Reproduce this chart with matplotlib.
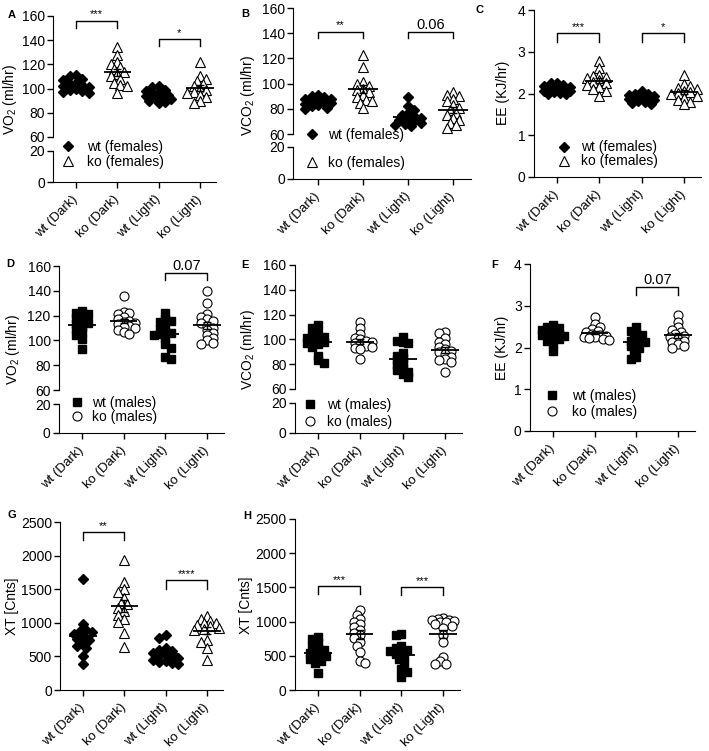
import numpy as np
import matplotlib
matplotlib.use('Agg')
import matplotlib.pyplot as plt

plt.rcParams['font.family'] = ['Liberation Sans', 'DejaVu Sans']
plt.rcParams['mathtext.fontset'] = 'custom'
plt.rcParams['mathtext.rm'] = 'Liberation Sans'
plt.rcParams['mathtext.it'] = 'Liberation Sans:italic'
plt.rcParams['mathtext.bf'] = 'Liberation Sans:bold'

groups = ['wt (Dark)', 'ko (Dark)', 'wt (Light)', 'ko (Light)']

# values, one list per group (wt dark, ko dark, wt light, ko light)
vo2_f = [[111, 110, 108, 107, 105, 104, 103, 102, 101, 100, 99, 98, 96, 97],
         [134, 128, 122, 120, 118, 116, 114, 112, 110, 108, 105, 103, 102, 96],
         [102, 101, 99, 98, 97, 96, 95, 94, 93, 92, 91, 90, 89, 88],
         [122, 110, 108, 106, 104, 102, 100, 99, 97, 96, 95, 93, 90, 88]]
vco2_f = [[91, 90, 89, 88, 88, 87, 86, 85, 85, 84, 83, 82, 81, 80],
          [123, 113, 101, 100, 98, 96, 95, 93, 91, 89, 87, 86, 85, 81],
          [89, 82, 79, 77, 75, 74, 73, 72, 71, 70, 69, 68, 67, 66],
          [93, 91, 90, 88, 86, 83, 81, 79, 77, 75, 73, 71, 69, 67, 65]]
ee_f = [[2.25, 2.24, 2.2, 2.18, 2.15, 2.12, 2.1, 2.08, 2.05, 2.03, 2.0, 1.98, 2.02, 2.07],
        [2.78, 2.62, 2.45, 2.42, 2.4, 2.36, 2.32, 2.28, 2.25, 2.2, 2.15, 2.1, 2.05, 1.94],
        [2.06, 2.0, 1.98, 1.96, 1.94, 1.92, 1.9, 1.88, 1.86, 1.84, 1.82, 1.8, 1.78, 1.76],
        [2.44, 2.22, 2.18, 2.14, 2.1, 2.07, 2.04, 2.01, 1.98, 1.95, 1.9, 1.85, 1.8, 1.76]]
vo2_m = [[124, 122, 121, 120, 118, 116, 114, 113, 111, 109, 107, 104, 101, 93],
         [136, 123, 122, 121, 119, 117, 116, 115, 114, 113, 112, 111, 110, 108, 107, 105],
         [122, 117, 116, 115, 112, 109, 107, 106, 105, 104, 102, 97, 94, 87, 85],
         [140, 130, 121, 119, 117, 116, 114, 112, 110, 108, 106, 104, 102, 100, 98, 97]]
vco2_m = [[112, 109, 104, 103, 102, 101, 100, 99, 98, 97, 96, 94, 87, 83, 81],
          [114, 109, 104, 101, 100, 99, 98, 97, 96, 95, 94, 93, 92, 84],
          [102, 99, 98, 97, 89, 87, 85, 83, 81, 79, 77, 75, 74, 72, 70],
          [106, 105, 101, 98, 96, 94, 92, 91, 90, 88, 86, 84, 83, 82, 74]]
ee_m = [[2.53, 2.5, 2.46, 2.42, 2.38, 2.35, 2.32, 2.3, 2.27, 2.24, 2.2, 2.15, 2.08, 1.92],
        [2.72, 2.56, 2.5, 2.45, 2.4, 2.36, 2.33, 2.3, 2.28, 2.26, 2.24, 2.22, 2.2, 2.18],
        [2.48, 2.4, 2.35, 2.3, 2.25, 2.2, 2.15, 2.12, 2.08, 2.03, 1.98, 1.92, 1.78, 1.72],
        [2.78, 2.6, 2.48, 2.42, 2.38, 2.32, 2.28, 2.24, 2.2, 2.16, 2.12, 2.08, 2.03, 1.99]]
xt_f = [[1650, 980, 900, 880, 860, 830, 800, 760, 740, 700, 660, 620, 510, 380],
        [1930, 1600, 1500, 1460, 1370, 1300, 1280, 1220, 1170, 1120, 1060, 1010, 850, 640],
        [820, 770, 620, 600, 580, 550, 530, 510, 490, 470, 450, 430, 410, 380, 400],
        [1100, 1060, 1030, 1000, 990, 970, 950, 930, 910, 890, 740, 710, 620, 440]]
xt_m = [[780, 740, 700, 650, 620, 590, 560, 540, 520, 500, 480, 460, 430, 400, 250],
        [1170, 1100, 1040, 1000, 960, 920, 880, 840, 800, 760, 700, 640, 560, 420, 400],
        [820, 810, 640, 610, 590, 570, 550, 520, 490, 450, 400, 300, 260, 190],
        [1050, 1040, 1030, 1020, 1010, 1000, 990, 970, 940, 900, 800, 700, 480, 420, 380, 380]]

W, H = 709, 751
fig = plt.figure(figsize=(W / 100, H / 100), dpi=100)

XLIM = (-0.55, 3.4)
female = dict(wt=dict(marker='D', ms=5, mfc='black', mec='black'),
              ko=dict(marker='^', ms=7, mfc='white', mec='black', mew=0.8))
male = dict(wt=dict(marker='s', ms=5.2, mfc='black', mec='black'),
            ko=dict(marker='o', ms=6.5, mfc='white', mec='black', mew=0.8))


def add_ax(first, sp, ytop, ybot):
    x0 = first + XLIM[0] * sp
    x1 = first + XLIM[1] * sp
    ax = fig.add_axes([x0 / W, 1 - ybot / H, (x1 - x0) / W, (ybot - ytop) / H])
    ax.set_xlim(*XLIM)
    for s in ['top', 'right']:
        ax.spines[s].set_visible(False)
    ax.tick_params(direction='out', length=4, width=1, labelsize=10, pad=2)
    return ax


def spread(vals, ax, size, maxw=0.34):
    # simple swarm: push points sideways, but keep them inside the column
    y0, y1 = ax.get_ylim()
    sx = ax.bbox.width / (XLIM[1] - XLIM[0])
    sy = ax.bbox.height / (y1 - y0)
    vals = np.asarray(vals, float)
    offs = np.zeros(len(vals))
    placed = []
    step = size * 0.35
    nmax = int(maxw * sx / step)
    for n, i in enumerate(np.argsort(vals)[::-1]):
        y = vals[i] * sy
        best, bestd = 0.0, -1
        for k in range(nmax + 1):
            cands = [0.0] if k == 0 else [k * step, -k * step]
            if n % 2:
                cands = cands[::-1]
            for dx in cands:
                d = min([np.hypot(dx - px, y - py) for px, py in placed] or [99])
                if d >= size * 0.6:
                    best, bestd = dx, 99
                    break
                if d > bestd:
                    best, bestd = dx, d
            if bestd == 99:
                break
        placed.append((best, y))
        offs[i] = best / sx
    return offs


def draw_groups(ax, data, style, size):
    handles = []
    for i, vals in enumerate(data):
        st = style['wt'] if i % 2 == 0 else style['ko']
        offs = spread(vals, ax, size)
        h, = ax.plot(i + offs, vals, ls='none', clip_on=False, zorder=3, **st)
        handles.append(h)
        m = np.mean(vals)
        sem = np.std(vals, ddof=1) / np.sqrt(len(vals))
        ax.hlines(m, i - 0.33, i + 0.33, color='black', lw=1.3, zorder=4)
        ax.errorbar(i, m, yerr=sem, color='black', lw=1, capsize=3, capthick=1, zorder=4)
    return handles[:2]


def bracket(ax, x1, x2, y, h, text, fs, pad=1):
    ax.plot([x1, x1, x2, x2], [y - h, y, y, y - h], color='black', lw=1, clip_on=False)
    ax.annotate(text, xy=((x1 + x2) / 2, y), xytext=(0, pad), textcoords='offset points',
                ha='center', va='bottom', fontsize=fs, annotation_clip=False)


def set_xlabels(ax):
    ax.set_xticks(range(4))
    ax.set_xticklabels(groups, rotation=45, ha='right', va='center', rotation_mode='anchor',
                       fontsize=9.5)
    ax.tick_params(axis='x', pad=7)


def broken_panel(first, sp, ytop, ybrk, ybot_top, yzero, data, style, size):
    ax = add_ax(first, sp, ytop, ybrk)
    ax.set_ylim(60, 160)
    ax.set_yticks([60, 80, 100, 120, 140, 160])
    ax.spines['bottom'].set_visible(False)
    ax.set_xticks([])
    axb = add_ax(first, sp, ybot_top, yzero)
    axb.set_ylim(0, 20)
    axb.set_yticks([0, 20])
    set_xlabels(axb)
    hs = draw_groups(ax, data, style, size)
    return ax, axb, hs


def plain_panel(first, sp, ytop, yzero, ylim, yticks, data, style, size):
    ax = add_ax(first, sp, ytop, yzero)
    ax.set_ylim(*ylim)
    ax.set_yticks(yticks)
    set_xlabels(ax)
    hs = draw_groups(ax, data, style, size)
    return ax, hs


def legend(ax, hs, labels, left, ycen, pad, spacing):
    ax.legend(hs, labels, loc='center left', bbox_to_anchor=(left / W, 1 - ycen / H),
              bbox_transform=fig.transFigure, frameon=False, borderpad=0, borderaxespad=0,
              handlelength=1.0, handletextpad=pad, labelspacing=spacing, fontsize=10,
              numpoints=1)


def ylabel(text, x, y):
    fig.text(x / W, 1 - y / H, text, rotation=90, ha='center', va='center', fontsize=10)


def letter(text, x, y):
    fig.text(x / W, 1 - y / H, text, ha='center', va='center', fontsize=8, fontweight='bold')


fem_labels = ['wt (females)', 'ko (females)']
male_labels = ['wt (males)', 'ko (males)']

# A
axA, axAb, hs = broken_panel(76, 41.3, 16, 137, 151, 182, vo2_f, female, 9)
bracket(axA, 0, 1, 156, 6, '***', 8)
bracket(axA, 2, 3, 141, 6, '*', 8)
legend(axAb, hs, fem_labels, 61, 154.5, 0.86, 0.1)
ylabel(r'VO$_2$ (ml/hr)', 10, 99)
letter('A', 12, 15)

# B
axB, axBb, hs = broken_panel(318, 45, 8, 134, 147, 179, vco2_f, female, 9)
bracket(axB, 0, 1, 141, 5, '**', 8)
bracket(axB, 2, 3, 141, 5, '0.06', 10.5, pad=0)
legend(axBb, hs, fem_labels, 305, 149, 0.65, 1.0)
ylabel(r'VCO$_2$ (ml/hr)', 248, 95)
letter('B', 245, 14)

# C
axC, hs = plain_panel(557, 42.3, 10, 177, (0, 4), [0, 1, 2, 3, 4], ee_f, female, 9)
bracket(axC, 0, 1, 3.44, 0.2, '***', 8)
bracket(axC, 2, 3, 3.44, 0.2, '*', 8)
legend(axC, hs, fem_labels, 557, 154.5, 0.72, 0.0)
ylabel('EE (KJ/hr)', 503, 93)
letter('C', 480, 10)

# D
axD, axDb, hs = broken_panel(82, 41.7, 266, 390, 404, 433, vo2_m, male, 8)
bracket(axD, 2, 3, 154.4, 6, '0.07', 10.5, pad=0)
legend(axDb, hs, male_labels, 70, 410, 0.58, 0.0)
ylabel(r'VO$_2$ (ml/hr)', 13, 349)
letter('D', 10, 264)

# E
axE, axEb, hs = broken_panel(318, 42.3, 265, 389, 403, 433, vco2_m, male, 8)
legend(axEb, hs, male_labels, 303, 413.5, 0.72, 0.2)
ylabel(r'VCO$_2$ (ml/hr)', 248, 349)
letter('E', 245, 265)

# F
axF, hs = plain_panel(553, 41.7, 264, 431, (0, 4), [0, 1, 2, 3, 4], ee_m, male, 8)
bracket(axF, 2, 3, 3.44, 0.18, '0.07', 10.5, pad=0)
legend(axF, hs, male_labels, 545, 404, 0.94, 0.15)
ylabel('EE (KJ/hr)', 502, 348)
letter('F', 495, 265)

# G
axG, hs = plain_panel(83, 41.3, 522, 690, (0, 2500), [0, 500, 1000, 1500, 2000, 2500],
                      xt_f, female, 9)
bracket(axG, 0, 1, 2351, 113, '**', 8)
bracket(axG, 2, 3, 1634, 124, '****', 8)
ylabel('XT [Cnts]', 12, 606)
letter('G', 12, 515)

# H
axH, hs = plain_panel(318, 41.7, 519, 690, (0, 2500), [0, 500, 1000, 1500, 2000, 2500],
                      xt_m, male, 8)
bracket(axH, 0, 1, 1520, 116, '***', 8)
bracket(axH, 2, 3, 1500, 116, '***', 8)
ylabel('XT [Cnts]', 246, 605)
letter('H', 247, 516)

fig.savefig('out.png', dpi=100)
